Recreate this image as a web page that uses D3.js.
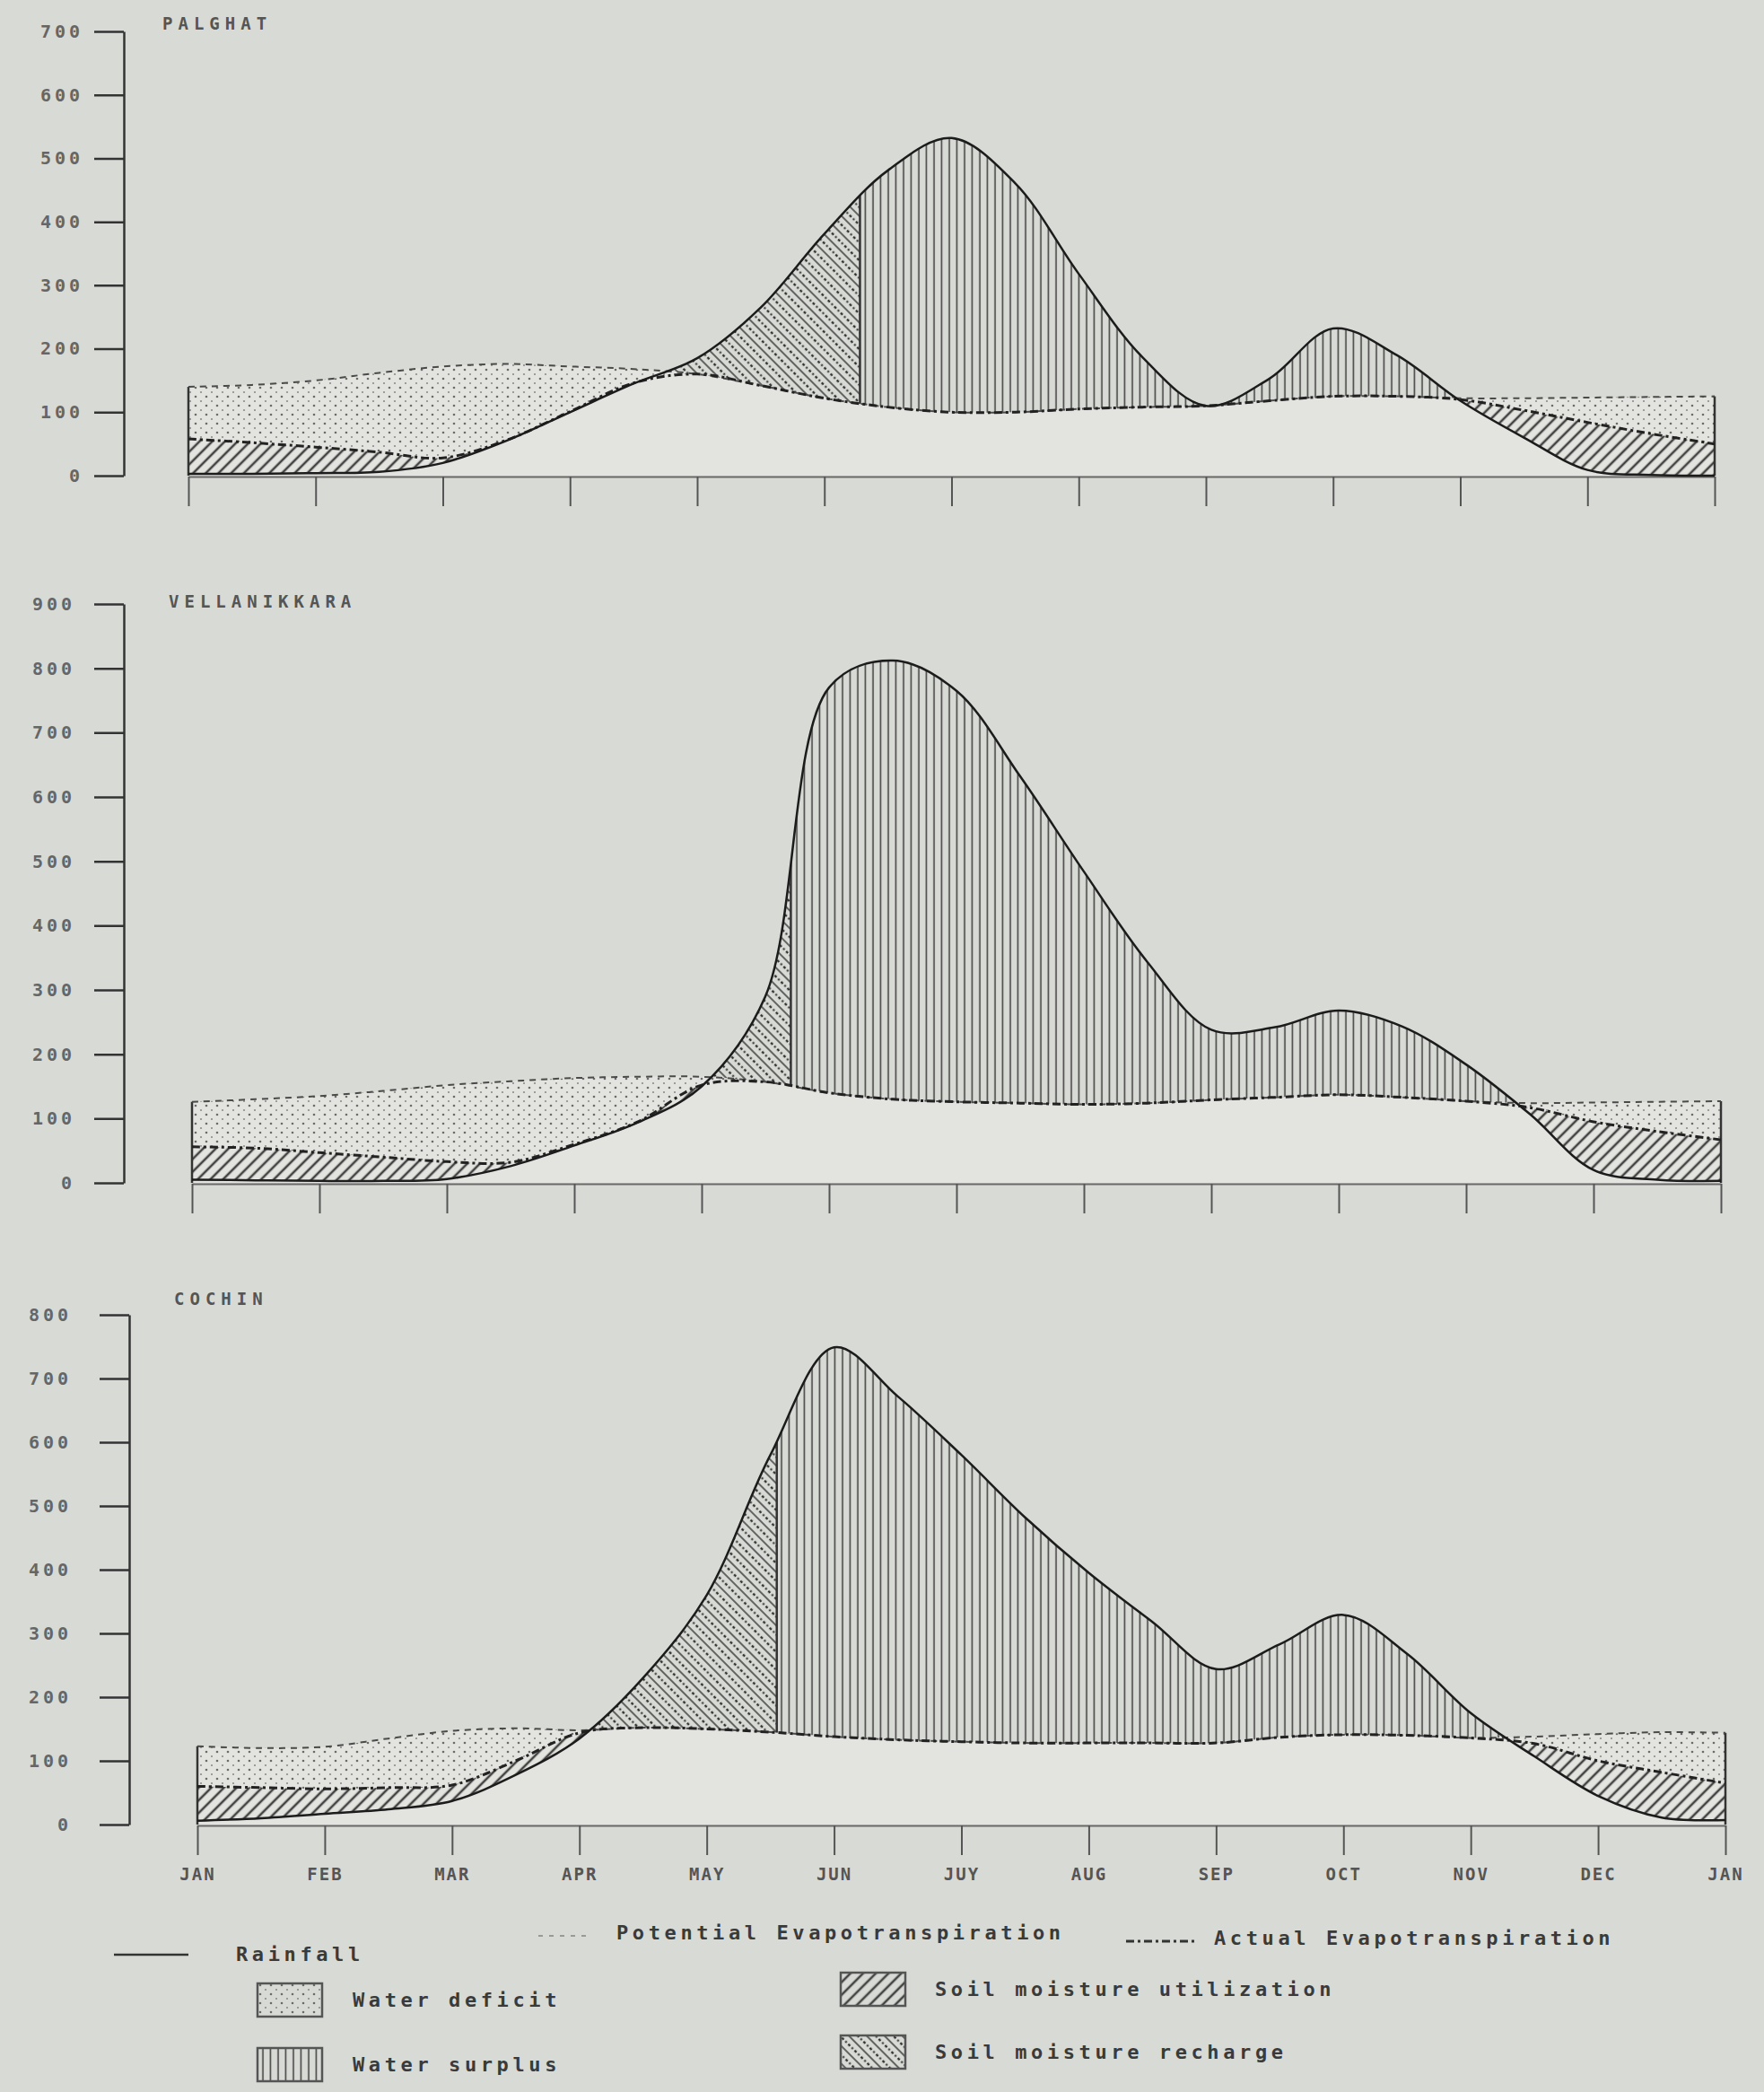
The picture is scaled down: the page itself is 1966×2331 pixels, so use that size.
<!DOCTYPE html>
<html>
<head>
<meta charset="utf-8">
<script src="https://cdn.jsdelivr.net/npm/d3@7"></script>
<style>
  body { margin: 0; background: #d8dbd5; }
  svg { display: block; }
  text { font-family: "DejaVu Sans Mono", "Liberation Mono", monospace; }
</style>
</head>
<body>
<div id="graph"></div>
<script>
// half-month positions, 0 = JAN ... 12 = next JAN
const steps = [0, 0.5, 1, 1.5, 2, 2.5, 3, 3.5, 4, 4.5, 5, 5.5, 6, 6.5, 7, 7.5, 8, 8.5, 9, 9.5, 10, 10.5, 11, 11.5, 12]
const monthLabels = ["JAN", "FEB", "MAR", "APR", "MAY", "JUN", "JUY", "AUG", "SEP", "OCT", "NOV", "DEC", "JAN"]

const palghatTicks = [0, 100, 200, 300, 400, 500, 600, 700]
const palghatRain = [3, 3, 4, 6, 20, 55, 100, 145, 185, 265, 381, 481, 532, 461, 318, 187, 110, 153, 232, 190, 118, 60, 9, 1, 0]
const palghatPE = [140, 143, 150, 162, 172, 176, 172, 168, 160, 142, 122, 108, 100, 100, 105, 108, 110, 118, 125, 125, 122, 122, 123, 124, 125]
const palghatAE = [58, 52, 45, 37, 28, 56, 101, 146, 160, 142, 122, 108, 100, 100, 105, 108, 110, 118, 125, 125, 120, 103, 84, 66, 50]
const palghatRechargeEnd = 5.28

const vellanikkaraTicks = [0, 100, 200, 300, 400, 500, 600, 700, 800, 900]
const vellanikkaraRain = [5, 4, 3, 3, 6, 26, 58, 94, 150, 290, 770, 812, 765, 632, 484, 343, 238, 242, 268, 243, 184, 107, 20, 5, 3]
const vellanikkaraPE = [126, 130, 135, 143, 152, 158, 163, 165, 165, 157, 140, 130, 126, 124, 122, 124, 129, 133, 137, 133, 127, 124, 125, 126, 127]
const vellanikkaraAE = [56, 54, 47, 40, 33, 32, 60, 95, 152, 157, 140, 130, 126, 124, 122, 124, 129, 133, 137, 133, 127, 117, 95, 80, 67]
const vellanikkaraRechargeEnd = 4.70

const cochinTicks = [0, 100, 200, 300, 400, 500, 600, 700, 800]
const cochinRain = [6, 10, 17, 24, 37, 78, 135, 230, 360, 580, 749, 672, 580, 482, 395, 318, 244, 283, 329, 268, 175, 107, 45, 11, 7]
const cochinPE = [123, 120, 122, 135, 147, 151, 148, 152, 150, 145, 138, 133, 130, 128, 128, 128, 128, 137, 141, 140, 136, 138, 142, 145, 144]
const cochinAE = [60, 58, 56, 58, 62, 100, 144, 152, 150, 145, 138, 133, 130, 128, 128, 128, 128, 137, 141, 140, 136, 127, 100, 82, 65]
const cochinRechargeEnd = 4.55

const width = 1966
const height = 2331

const svg = d3.select("#graph").append("svg")
    .attr("width", width)
    .attr("height", height)

const defs = svg.append("defs")

// Fill patterns
const dots = defs.append("pattern").attr("id", "dots")
    .attr("patternUnits", "userSpaceOnUse").attr("width", 12).attr("height", 10)
dots.append("circle").attr("cx", 2).attr("cy", 2).attr("r", 1.3).attr("fill", "#6a6a6a")
dots.append("circle").attr("cx", 8).attr("cy", 7).attr("r", 1.1).attr("fill", "#8a8a8a")

const hatch = defs.append("pattern").attr("id", "hatch")
    .attr("patternUnits", "userSpaceOnUse").attr("width", 10).attr("height", 10)
    .attr("patternTransform", "rotate(45)")
hatch.append("line").attr("x1", 5).attr("y1", 0).attr("x2", 5).attr("y2", 10)
    .attr("stroke", "#444").attr("stroke-width", 2.6)

const recharge = defs.append("pattern").attr("id", "recharge")
    .attr("patternUnits", "userSpaceOnUse").attr("width", 14).attr("height", 10)
    .attr("patternTransform", "rotate(-45)")
recharge.append("line").attr("x1", 3).attr("y1", 0).attr("x2", 3).attr("y2", 10)
    .attr("stroke", "#444").attr("stroke-width", 1.6)
recharge.append("line").attr("x1", 10).attr("y1", 0).attr("x2", 10).attr("y2", 10)
    .attr("stroke", "#333").attr("stroke-width", 2.4).attr("stroke-dasharray", "2,2.5")

const surplus = defs.append("pattern").attr("id", "surplus")
    .attr("patternUnits", "userSpaceOnUse").attr("width", 8.5).attr("height", 10)
surplus.append("line").attr("x1", 4).attr("y1", 0).attr("x2", 4).attr("y2", 10)
    .attr("stroke", "#444").attr("stroke-width", 1.6)

const curve = d3.curveCatmullRom.alpha(0.5)

const panels = [
    { key: "pal", name: "PALGHAT", rain: palghatRain, pe: palghatPE, ae: palghatAE,
      rechargeEnd: palghatRechargeEnd, ticks: palghatTicks,
      x0: 210, x1: 1911, yTop: 35, yBase: 530, axisX: 138, labelPad: 12, titleX: 181, titleY: 33 },
    { key: "vel", name: "VELLANIKKARA", rain: vellanikkaraRain, pe: vellanikkaraPE, ae: vellanikkaraAE,
      rechargeEnd: vellanikkaraRechargeEnd, ticks: vellanikkaraTicks,
      x0: 214, x1: 1918, yTop: 673, yBase: 1318, axisX: 138, labelPad: 21, titleX: 188, titleY: 677 },
    { key: "coc", name: "COCHIN", rain: cochinRain, pe: cochinPE, ae: cochinAE,
      rechargeEnd: cochinRechargeEnd, ticks: cochinTicks,
      x0: 220, x1: 1923, yTop: 1465, yBase: 2033, axisX: 144, labelPad: 31, titleX: 194, titleY: 1454 }
]

panels.forEach((p, pi) => {
    const yMax = d3.max(p.ticks)
    const x = d3.scaleLinear().domain([0, 12]).range([p.x0, p.x1])
    const y = d3.scaleLinear().domain([0, yMax]).range([p.yBase, p.yTop])
    const g = svg.append("g")

    const below = vals => d3.area().x((d, i) => x(steps[i])).y0(y(0)).y1(d => y(d)).curve(curve)(vals)
    const above = vals => d3.area().x((d, i) => x(steps[i])).y0(p.yTop - 60).y1(d => y(d)).curve(curve)(vals)
    const line = vals => d3.line().x((d, i) => x(steps[i])).y(d => y(d)).curve(curve)(vals)

    const clip = (name, d) => {
        const id = `${p.key}-${name}`
        defs.append("clipPath").attr("id", id).append("path").attr("d", d)
        return `url(#${id})`
    }
    const clipRect = (name, xa, xb) => {
        const id = `${p.key}-${name}`
        defs.append("clipPath").attr("id", id).append("rect")
            .attr("x", xa).attr("y", p.yTop - 60).attr("width", xb - xa).attr("height", p.yBase - p.yTop + 120)
        return `url(#${id})`
    }
    const plotClip = clipRect("plot", x(0), x(12))

    const body = g.append("g").attr("clip-path", plotClip)

    // lighter band below PE
    body.append("path").attr("d", below(p.pe)).attr("fill", "#e3e4df")

    // Water deficit: between AE and PE
    body.append("g").attr("clip-path", clip("aboveAE", above(p.ae)))
        .append("path").attr("d", below(p.pe)).attr("fill", "url(#dots)")

    // Soil moisture utilization: between rainfall and AE
    body.append("g").attr("clip-path", clip("aboveRain", above(p.rain)))
        .append("path").attr("d", below(p.ae)).attr("fill", "url(#hatch)")

    // Rainfall above PE: recharge, then surplus
    const wet = body.append("g").attr("clip-path", clip("abovePE", above(p.pe)))
    wet.append("g").attr("clip-path", clipRect("rech", x(0), x(p.rechargeEnd)))
        .append("path").attr("d", below(p.rain)).attr("fill", "url(#recharge)")
    wet.append("g").attr("clip-path", clipRect("surp", x(p.rechargeEnd), x(12)))
        .append("path").attr("d", below(p.rain)).attr("fill", "url(#surplus)")
    wet.append("g").attr("clip-path", clip("belowRain", below(p.rain)))
        .append("line")
        .attr("x1", x(p.rechargeEnd)).attr("x2", x(p.rechargeEnd))
        .attr("y1", p.yTop).attr("y2", p.yBase)
        .attr("stroke", "#333").attr("stroke-width", 2.5)

    // X axis
    const xAxis = d3.axisBottom(x).tickValues(d3.range(13)).tickSize(33).tickSizeOuter(0)
    if (pi === panels.length - 1) {
        xAxis.tickFormat((d, i) => monthLabels[i]).tickPadding(15)
    } else {
        xAxis.tickFormat("")
    }
    const xg = g.append("g").attr("transform", `translate(0,${p.yBase + 1})`).call(xAxis)
    xg.select(".domain").attr("stroke", "#6a6a6a").attr("stroke-width", 2)
    xg.selectAll(".tick line").attr("stroke", "#555").attr("stroke-width", 2)
    xg.selectAll(".tick text")
        .attr("font-size", 19).attr("font-weight", "bold").attr("fill", "#555")
        .style("letter-spacing", "2px")
        .style("font-family", "'DejaVu Sans Mono', monospace")

    // plot edges
    g.append("line").attr("x1", x(0)).attr("x2", x(0))
        .attr("y1", y(p.pe[0])).attr("y2", p.yBase)
        .attr("stroke", "#333").attr("stroke-width", 2.5)
    g.append("line").attr("x1", x(12)).attr("x2", x(12))
        .attr("y1", y(p.pe[p.pe.length - 1])).attr("y2", p.yBase)
        .attr("stroke", "#333").attr("stroke-width", 2.5)

    // Curves
    const lines = g.append("g").attr("clip-path", plotClip)
    lines.append("path").attr("d", line(p.pe)).attr("fill", "none")
        .attr("stroke", "#4a4a4a").attr("stroke-width", 2).attr("stroke-dasharray", "7,6")
    lines.append("path").attr("d", line(p.ae)).attr("fill", "none")
        .attr("stroke", "#222").attr("stroke-width", 3).attr("stroke-dasharray", "9,4,3,4")
    lines.append("path").attr("d", line(p.rain)).attr("fill", "none")
        .attr("stroke", "#1c1c1c").attr("stroke-width", 2.5)

    // Y axis
    const yAxis = d3.axisLeft(y).tickValues(p.ticks).tickSize(33).tickSizeOuter(0).tickPadding(p.labelPad)
    const yg = g.append("g").attr("transform", `translate(${p.axisX},0)`).call(yAxis)
    yg.select(".domain").attr("stroke", "#333").attr("stroke-width", 2.5)
    yg.selectAll(".tick line").attr("stroke", "#333").attr("stroke-width", 2.5)
    yg.selectAll(".tick text")
        .attr("font-size", 20).attr("font-weight", "bold").attr("fill", "#666")
        .style("letter-spacing", "4px")
        .style("font-family", "'DejaVu Sans Mono', monospace")

    // Title
    g.append("text")
        .attr("x", p.titleX).attr("y", p.titleY)
        .attr("font-size", 19).attr("font-weight", "bold").attr("fill", "#555")
        .style("letter-spacing", "6px")
        .text(p.name)
})

// Legend
const legend = svg.append("g")
    .attr("font-size", 22).attr("font-weight", "bold").attr("fill", "#3a3a3a")
    .style("letter-spacing", "4.6px")

legend.append("line").attr("x1", 127).attr("x2", 210).attr("y1", 2178).attr("y2", 2178)
    .attr("stroke", "#333").attr("stroke-width", 2.5)
legend.append("text").attr("x", 263).attr("y", 2185).text("Rainfall")

legend.append("line").attr("x1", 600).attr("x2", 660).attr("y1", 2157).attr("y2", 2157)
    .attr("stroke", "#999").attr("stroke-width", 2).attr("stroke-dasharray", "5,7")
legend.append("text").attr("x", 687).attr("y", 2161).text("Potential Evapotranspiration")

legend.append("line").attr("x1", 1255).attr("x2", 1333).attr("y1", 2163).attr("y2", 2163)
    .attr("stroke", "#333").attr("stroke-width", 3).attr("stroke-dasharray", "9,4,3,4")
legend.append("text").attr("x", 1353).attr("y", 2167).text("Actual Evapotranspiration")

const swatches = [
    { fill: "url(#dots)", x: 287, y: 2210, label: "Water deficit", tx: 393 },
    { fill: "url(#surplus)", x: 287, y: 2282, label: "Water surplus", tx: 393 },
    { fill: "url(#hatch)", x: 937, y: 2198, label: "Soil moisture utilization", tx: 1042 },
    { fill: "url(#recharge)", x: 937, y: 2268, label: "Soil moisture recharge", tx: 1042 }
]
swatches.forEach(s => {
    legend.append("rect").attr("x", s.x).attr("y", s.y).attr("width", 72).attr("height", 37)
        .attr("fill", s.fill).attr("stroke", "#555").attr("stroke-width", 2.5)
    legend.append("text").attr("x", s.tx).attr("y", s.y + 26).text(s.label)
})
</script>
</body>
</html>
